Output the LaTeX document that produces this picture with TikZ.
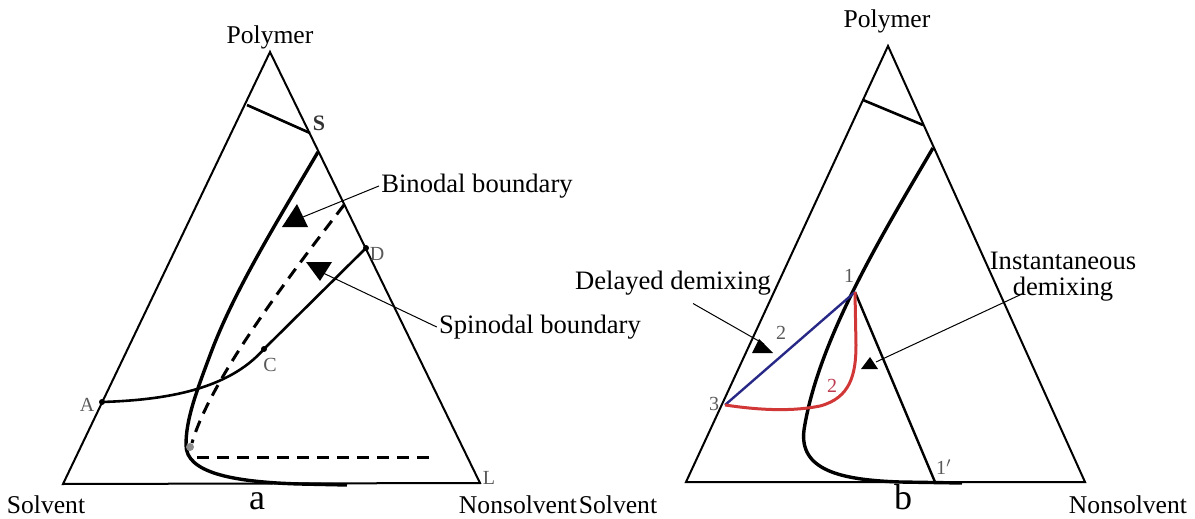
\documentclass[tikz,border=0pt]{standalone}
\usepackage{fontspec}
\setmainfont{Liberation Serif}
\usetikzlibrary{arrows.meta, calc}

\definecolor{tiecol}{RGB}{40,40,135}
\definecolor{pathcol}{RGB}{210,55,55}
\definecolor{numred}{RGB}{190,60,80}

\begin{document}
\begin{tikzpicture}[x=0.5pt, y=-0.5pt,
        side/.style={line width=1pt, line join=miter},
        curve/.style={line width=1.7pt},
        spin/.style={line width=1.5pt, dash pattern=on 6pt off 4pt},
        ptr/.style={line width=0.5pt},
        head/.style={fill=black},
        dot/.style={circle, fill=black, inner sep=0pt, minimum size=3pt},
        corner/.style={font=\fontsize{12.8}{15}\selectfont, inner sep=1pt},
        lbl/.style={font=\fontsize{13.3}{13}\selectfont, align=center, inner sep=1pt},
        pt/.style={font=\fontsize{10}{12}\selectfont, text=black!65, inner sep=1pt},
        fig/.style={font=\fontsize{18}{20}\selectfont, inner sep=0pt}
    ]
    \useasboundingbox (0,0) rectangle (1195,519);

    % ---- diagram a ----
    \coordinate (polA) at (270,52);
    \coordinate (solA) at (63,484);
    \coordinate (nonA) at (480,483);
    \draw[side] (polA) -- (solA) -- (nonA) -- cycle;

    \node[corner] (polAlbl) at (270,37) {Polymer};
    \node[corner] (solAlbl) at (46,505) {Solvent};
    \node[corner] (nonAlbl) at (518,505) {Nonsolvent};
    \node[fig] (capA) at (257,501) {a};

    \coordinate (tieAl) at (247,105);
    \coordinate (S) at (310,133);
    \draw[line width=1.3pt] (tieAl) -- (S);
    \node[font=\fontsize{11}{12}\selectfont\bfseries, text=black!80, inner sep=1pt] (Slbl) at (319,123) {S};

    % binodal
    \draw[curve] (318,152) .. controls (275,225) and (235,290) .. (212,350)
        .. controls (195,395) and (186,420) .. (186,445)
        .. controls (186,472) and (230,482) .. (300,484) -- (347,485);
    % spinodal
    \draw[spin] (344,205) .. controls (290,275) and (210,380) .. (192,443);
    \node[circle, fill=black!45, inner sep=0pt, minimum size=4pt] (crit) at (190,447) {};
    \coordinate (hzl) at (197,457);
    \coordinate (hzr) at (430,457);
    \draw[spin] (hzl) -- (hzr);

    % path A - C - D
    \node[dot] (A) at (102,402) {};
    \node[dot] (C) at (264,349) {};
    \node[dot] (D) at (366,248) {};
    \draw[line width=1.3pt] (A.center) .. controls (165,400) and (228,390) .. (C.center) -- (D.center);
    \node[pt] (Albl) at (87,405) {A};
    \node[pt] (Clbl) at (270,365) {C};
    \node[pt] (Dlbl) at (377,254) {D};
    \node[pt] (Llbl) at (489,478) {L};

    % pointers
    \node[lbl] (binlbl) at (477,186) {Binodal boundary};
    \node[lbl] (spinlbl) at (540,327) {Spinodal boundary};
    \coordinate (binTip) at (303,217);
    \coordinate (spinTip) at (321,272);
    \draw[ptr] (binlbl.west) -- (binTip);
    \draw[ptr] (spinlbl.west) -- (spinTip);
    \fill[head] (297,204) -- (282,227) -- (308,227) -- cycle;
    \fill[head] (306,262) -- (332,262) -- (320,281) -- cycle;

    % ---- diagram b ----
    \coordinate (polB) at (888,46);
    \coordinate (solB) at (686,482);
    \coordinate (nonB) at (1085,482);
    \draw[side] (polB) -- (solB) -- (nonB) -- cycle;

    \node[corner] (polBlbl) at (887,21) {Polymer};
    \node[corner] (solBlbl) at (618,505) {Solvent};
    \node[corner] (nonBlbl) at (1128,505) {Nonsolvent};
    \node[fig] (capB) at (903,497) {b};

    \coordinate (tieBl) at (863,100);
    \coordinate (tieBr) at (923,125);
    \draw[line width=1.3pt] (tieBl) -- (tieBr);

    % binodal
    \draw[curve] (933,148) .. controls (882,235) and (818,340) .. (804,430)
        .. controls (799,470) and (840,480) .. (900,482) -- (962,483);

    \coordinate (one) at (855,292);
    \coordinate (three) at (725,405);
    \coordinate (onep) at (935,482);
    \draw[line width=1.2pt] (one) -- (onep);
    \draw[tiecol, line width=1.2pt] (one) -- (three);
    \draw[pathcol, line width=1.5pt] (three) .. controls (765,411) and (795,411) .. (820,406) .. controls (850,398) and (856,375) .. (856,345) -- (one);

    \node[pt] (onelbl) at (849,276) {1};
    \node[pt] (twolbl) at (781,333) {2};
    \node[pt] (threelbl) at (714,404) {3};
    \node[pt, text=numred] (tworedlbl) at (832,386) {2};
    \node[pt] (oneplbl) at (944,467) {1$'$};

    % pointers
    \node[lbl] (dellbl) at (673,283) {Delayed demixing};
    \node[lbl] (instlbl) at (1063,277) {Instantaneous\\demixing};
    \coordinate (delTip) at (764,344);
    \coordinate (instTip) at (876,362);
    \draw[ptr] ([xshift=10pt, yshift=-3pt]dellbl.south) -- (delTip);
    \draw[ptr] ([xshift=-20.5pt, yshift=5pt]instlbl.south) -- (instTip);
    \fill[head] (759,339) -- (752,353) -- (773,353) -- cycle;
    \fill[head] (870,357) -- (861,369) -- (878,369) -- cycle;
\end{tikzpicture}
\end{document}
